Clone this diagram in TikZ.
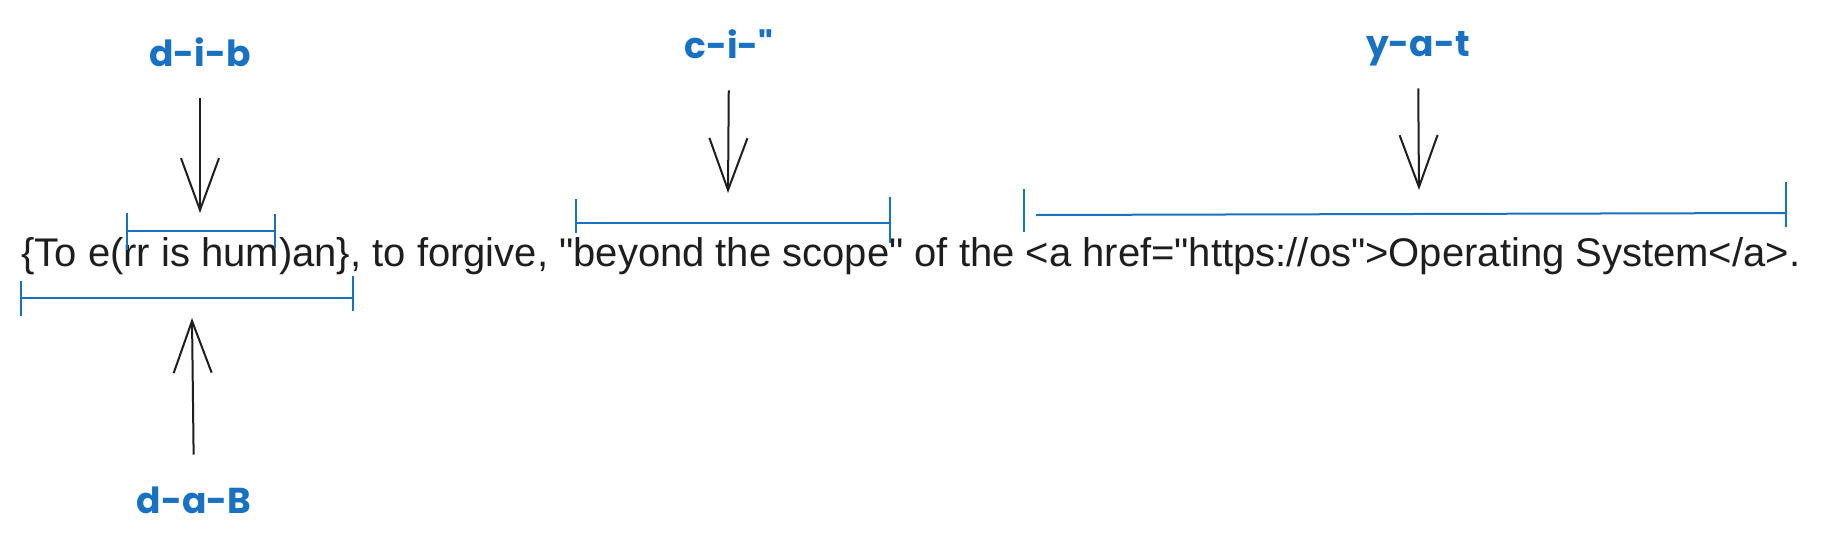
\documentclass[tikz,border=0pt]{standalone}
\usepackage{fontspec}
\setmainfont{Liberation Sans}[Ligatures=TeXOff]
\newfontfamily\handfont{Poppins}
\usetikzlibrary{arrows.meta}
\definecolor{inkblue}{HTML}{1971C2}
\definecolor{ink}{HTML}{1E1E1E}

\begin{document}
\begin{tikzpicture}[x=0.5pt,y=-0.5pt,
  tag/.style={font={\handfont\bfseries\fontsize{18}{20}\selectfont}, text=inkblue,
    inner sep=0pt, text height=13pt, text depth=0pt, anchor=base},
  pointer/.style={draw=ink, line width=1pt, shorten <=16pt,
    -{Straight Barb[length=26pt,width=19pt]}},
  span/.style={draw=inkblue, line width=1pt},
  tick/.style={draw=inkblue, line width=0.7pt}]
  \path[fill=white] (0,0) rectangle (1822,547);
  % the sentence
  \node[anchor=base west, inner sep=0pt, text=ink,
    font=\fontsize{20}{24}\selectfont] (sentence) at (21,266)
    {\{To e(rr is hum)an\}, to forgive, "beyond the scope" of the <a href="https://os">Operating System</a>.};
  % d-i-b -- over "rr is hum"
  \node[tag] (dib) at (200,66) {d-i-b};
  \coordinate (dib-to) at (200,213);
  \draw[pointer] (dib.south) -- (dib-to);
  \draw[span] (127,231) -- (275,231);
  \draw[tick] (127,213) -- (127,250);
  \draw[tick] (275,214) -- (275,248);
  % d-a-B -- under the braces
  \node[tag] (dab) at (194,513) {d-a-B};
  \coordinate (dab-to) at (192,318);
  \draw[pointer] (dab.north) -- (dab-to);
  \draw[span] (21,298) -- (353,298);
  \draw[tick] (21,281) -- (21,316);
  \draw[tick] (353,276) -- (353,311);
  % c-i-" -- inside the quotes
  \node[tag] (cib) at (729,58) {c-i-"};
  \coordinate (cib-to) at (728,193);
  \draw[pointer] (cib.south) -- (cib-to);
  \draw[span] (576,223) -- (890,223);
  \draw[tick] (576,199) -- (576,233);
  \draw[tick] (890,197) -- (890,243);
  % y-a-t -- around the tag
  \node[tag] (yat) at (1418,56) {y-a-t};
  \coordinate (yat-to) at (1419,190);
  \draw[pointer] (yat.south) -- (yat-to);
  \draw[span] (1036,215) -- (1786,213);
  \draw[tick] (1024,189) -- (1024,232);
  \draw[tick] (1786,182) -- (1786,227);
\end{tikzpicture}
\end{document}
